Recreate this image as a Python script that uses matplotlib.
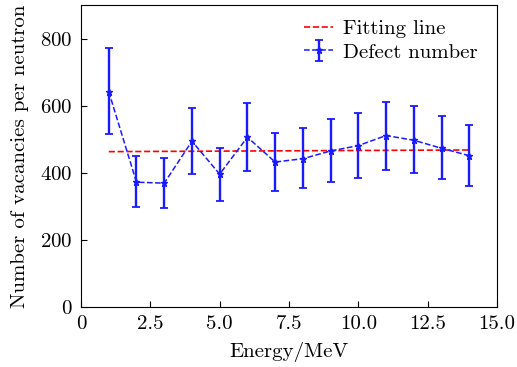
import numpy as np
import matplotlib
matplotlib.use("Agg")
import matplotlib.pyplot as plt

plt.rcParams['font.family'] = 'serif'
plt.rcParams['font.serif'] = ['cmr10', 'DejaVu Serif']
plt.rcParams['mathtext.fontset'] = 'cm'
plt.rcParams['axes.formatter.use_mathtext'] = True

# Data
energy = [1, 2, 3, 4, 5, 6, 7, 8, 9, 10, 11, 12, 13, 14]
defects = [642, 372, 369, 494, 396, 506, 432, 442, 465, 481, 511, 497, 473, 451]
err_upper = [772, 449, 443, 594, 474, 607, 520, 532, 559, 577, 612, 598, 568, 541]
err_lower = [517, 299, 296, 396, 317, 405, 347, 354, 373, 385, 409, 399, 380, 362]
fit_x = [1, 14]
fit_y = [463, 468]

defects = np.array(defects)
yerr = [defects - np.array(err_lower), np.array(err_upper) - defects]

fig = plt.figure(figsize=(5.17, 3.67), dpi=100)
ax = fig.add_axes([81 / 517, 1 - 307 / 367, 416 / 517, 302 / 367])

ax.plot(fit_x, fit_y, '--', color='red', lw=1.2, label='Fitting line')
ax.errorbar(energy, defects, yerr=yerr, fmt='--*', color='#1a1aff', lw=1.1,
            ms=5, elinewidth=1.7, capsize=3, capthick=1.3, label='Defect number')

ax.set_xlim(0, 15)
ax.set_ylim(0, 900)
ax.set_xticks([0, 2.5, 5.0, 7.5, 10.0, 12.5, 15.0])
ax.set_xticklabels(['0', '2.5', '5.0', '7.5', '10.0', '12.5', '15.0'])
ax.set_yticks([0, 200, 400, 600, 800])
ax.tick_params(direction='in', length=4, labelsize=15, pad=6)
ax.set_xlabel('Energy/MeV', fontsize=15, labelpad=6)
ax.set_ylabel('Number of vacancies per neutron', fontsize=15, labelpad=8)

ax.legend(loc='upper right', bbox_to_anchor=(0.998, 1.015), frameon=False,
          fontsize=15, handlelength=1.4, handletextpad=0.45, labelspacing=0.25)

fig.savefig('out.png', dpi=100)
